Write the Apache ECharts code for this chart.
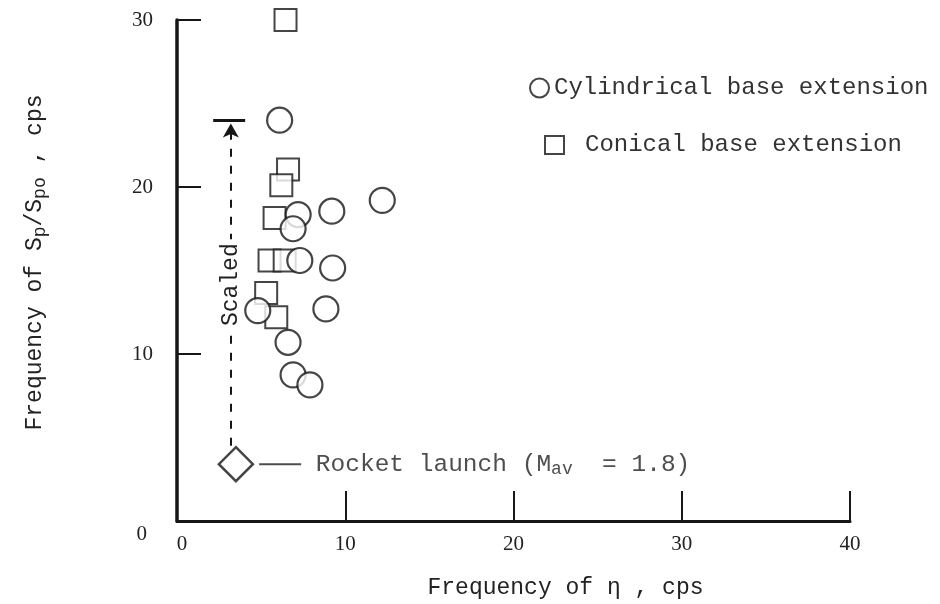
<!DOCTYPE html>
<html><head><meta charset="utf-8">
<script src="https://cdn.jsdelivr.net/npm/echarts@6/dist/echarts.min.js"></script>
<style>html,body{margin:0;padding:0;background:#fff}#c{width:940px;height:604px}</style>
</head><body><div id="c"></div>
<script>
const xTicks = [0, 10, 20, 30, 40];
const yTicks = [0, 10, 20, 30];
const cylindrical = [[6.1,24.0],[12.2,19.2],[9.2,18.55],[7.2,18.35],[6.9,17.5],[7.3,15.6],[9.25,15.15],[4.8,12.6],[8.85,12.7],[6.6,10.7],[6.9,8.75],[7.9,8.15]];
const conical = [[6.45,30.0],[6.6,21.05],[6.2,20.1],[5.8,18.15],[5.5,15.6],[6.4,15.6],[5.3,13.65],[5.9,12.2]];
const rocket = [[3.5,3.4]];
const scaledArrow = [[3.2,4.5],[3.2,23.8]];
const scaledBar = [[2.15,24.0],[4.05,24.0]];

const INK = '#161616';
const MONO = 'Liberation Mono';
const SERIF = 'Liberation Serif';
const FS = 23;
const LFS = 24;

const chart = echarts.init(document.getElementById('c'));
chart.setOption({
  animation: false,
  backgroundColor: '#fff',
  grid: { left: 177, right: 90, top: 20, bottom: 82 },
  legend: [
    { data: ['Cylindrical base extension'], left: 524, top: 71, icon: 'circle', itemWidth: 19, itemHeight: 19,
      textStyle: { fontFamily: MONO, fontSize: LFS, color: '#333' } },
    { data: ['Conical base extension'], left: 539, top: 128, icon: 'rect', itemWidth: 19, itemHeight: 18,
      formatter: n => '{a|' + n + '}',
      textStyle: { fontFamily: MONO, fontSize: LFS, color: '#333', rich: { a: { fontFamily: MONO, fontSize: LFS, color: '#333', padding: [0,0,0,16] } } } }
  ],
  xAxis: {
    type: 'value', min: xTicks[0], max: xTicks[xTicks.length-1], interval: 10,
    name: 'Frequency of η , cps', nameLocation: 'middle', nameGap: 55,
    nameTextStyle: { fontFamily: MONO, fontSize: FS, color: '#222', padding: [0, 0, 0, 104] },
    axisLine: { lineStyle: { color: INK, width: 3 } },
    axisTick: { inside: true, length: 30, lineStyle: { color: INK, width: 2 } },
    axisLabel: { fontFamily: SERIF, fontSize: 21, color: '#222', margin: 13,
      formatter: v => v === 0 ? '{z|0}' : String(v),
      rich: { z: { fontFamily: SERIF, fontSize: 21, color: '#222', padding: [0,0,0,10] } } },
    splitLine: { show: false }
  },
  yAxis: {
    type: 'value', min: yTicks[0], max: yTicks[yTicks.length-1], interval: 10,
    name: '{t|Frequency of S}{s|p}{t|/S}{s|po}{t| , cps}', nameLocation: 'middle', nameGap: 128,
    nameTextStyle: { fontFamily: MONO, fontSize: FS, color: '#222', padding: [0, 0, 0, 16],
      rich: {
        t: { fontFamily: MONO, fontSize: FS, color: '#222', lineHeight: 28 },
        s: { fontFamily: MONO, fontSize: 18, color: '#222', lineHeight: 12, verticalAlign: 'bottom' }
      } },
    axisLine: { lineStyle: { color: INK, width: 3.5 } },
    axisTick: { inside: true, length: 24, lineStyle: { color: INK, width: 2 } },
    axisLabel: { fontFamily: SERIF, fontSize: 21, color: '#222', margin: 24,
      formatter: v => v === 0 ? '{z|0}' : String(v),
      rich: { z: { fontFamily: SERIF, fontSize: 21, color: '#222', padding: [26,6,0,0] } } },
    splitLine: { show: false }
  },
  series: [
    { name: 'Conical base extension', type: 'scatter', data: conical, symbol: 'rect', symbolSize: 22,
      itemStyle: { color: '#fff', borderColor: INK, borderWidth: 2 }, z: 3 },
    { name: 'Cylindrical base extension', type: 'scatter', data: cylindrical, symbol: 'circle', symbolSize: 25,
      itemStyle: { color: '#fff', borderColor: INK, borderWidth: 2.2 }, z: 4 },
    { name: 'Rocket launch', type: 'scatter', data: rocket, symbol: 'diamond', symbolSize: 34,
      itemStyle: { color: '#fff', borderColor: INK, borderWidth: 2.5 }, z: 5,
      label: { show: true, position: 'right', distance: 5,
        formatter: '{ln| }{t| Rocket launch (M}{s|av}{t|  = 1.8)}',
        rich: {
          ln: { width: 42, height: 2, backgroundColor: '#222' },
          t: { fontFamily: MONO, fontSize: 24.5, color: '#222', lineHeight: 28 },
          s: { fontFamily: MONO, fontSize: 18, color: '#222', lineHeight: 12, verticalAlign: 'bottom' }
        } },
      markLine: {
        silent: true, animation: false, symbol: ['none', 'arrow'], symbolSize: [12, 14],
        lineStyle: { color: INK, type: [8, 9], width: 2 },
        label: { show: true, position: 'insideMiddle', formatter: 'Scaled', fontFamily: MONO, fontSize: FS,
          color: '#222', backgroundColor: '#fff', padding: [0, 4] },
        data: [
          [{ coord: scaledArrow[0] }, { coord: scaledArrow[1] }],
          [{ coord: scaledBar[0], symbol: 'none', lineStyle: { type: 'solid', width: 3, color: INK }, label: { show: false } },
           { coord: scaledBar[1], symbol: 'none' }]
        ]
      }
    }
  ]
});
</script></body></html>
